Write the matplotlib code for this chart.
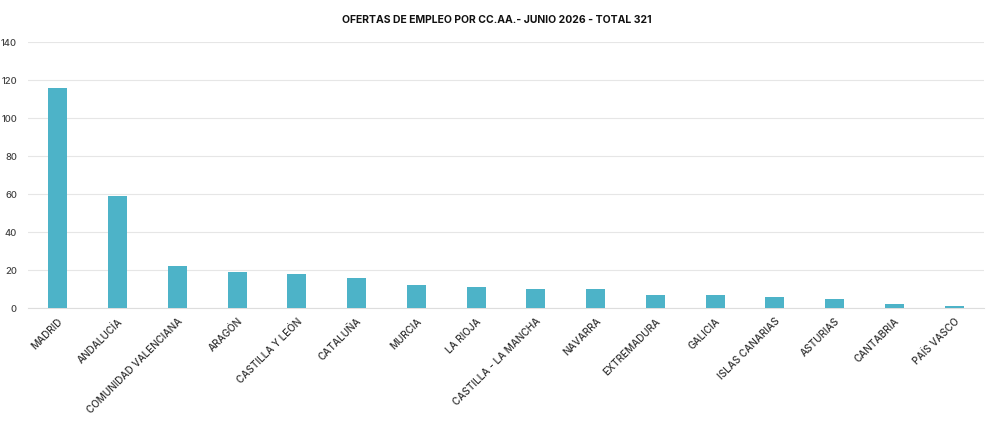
import matplotlib.pyplot as plt
import numpy as np

# Ofertas por comunidad autónoma
comunidades = ['MADRID', 'ANDALUCÍA', 'COMUNIDAD VALENCIANA', 'ARAGÓN', 'CASTILLA Y LEÓN',
               'CATALUÑA', 'MURCIA', 'LA RIOJA', 'CASTILLA - LA MANCHA', 'NAVARRA',
               'EXTREMADURA', 'GALICIA', 'ISLAS CANARIAS', 'ASTURIAS', 'CANTABRIA', 'PAÍS VASCO']
ofertas = [116, 59, 22, 19, 18, 16, 12, 11, 10, 10, 7, 7, 6, 5, 2, 1]
y_ticks = [0, 20, 40, 60, 80, 100, 120, 140]

plt.rcParams['font.family'] = ['Inter', 'DejaVu Sans']

fig = plt.figure(figsize=(9.94, 4.23), dpi=100)
ax = fig.add_axes([28 / 994, 1 - 308 / 423, 956 / 994, 266 / 423])

x = np.arange(len(comunidades))
ax.bar(x, ofertas, width=0.32, color='#4db3c8', zorder=3)

ax.set_xlim(-0.5, len(comunidades) - 0.5)
ax.set_ylim(0, 140)
ax.set_yticks(y_ticks)
ax.set_yticklabels([str(v) for v in y_ticks], fontsize=6.8, color='#444444',
                   fontweight='medium')
ax.set_xticks(x)
ax.set_xticklabels(comunidades, rotation=45, ha='right', rotation_mode='anchor',
                   fontsize=7.2, color='#333333', fontweight='medium')

ax.grid(axis='y', color='#e6e6e6', linewidth=0.8, zorder=0)
for s in ['top', 'right', 'left']:
    ax.spines[s].set_visible(False)
ax.spines['bottom'].set_color('#dddddd')
ax.tick_params(axis='both', length=0)
ax.tick_params(axis='y', pad=8)
ax.tick_params(axis='x', pad=6)

fig.text(0.5, 1 - 20 / 423, 'OFERTAS DE EMPLEO POR CC.AA.- JUNIO 2026 - TOTAL 321',
         ha='center', va='center', fontsize=7.5, fontweight='bold', color='#111111')

fig.savefig('out.png', dpi=100)
